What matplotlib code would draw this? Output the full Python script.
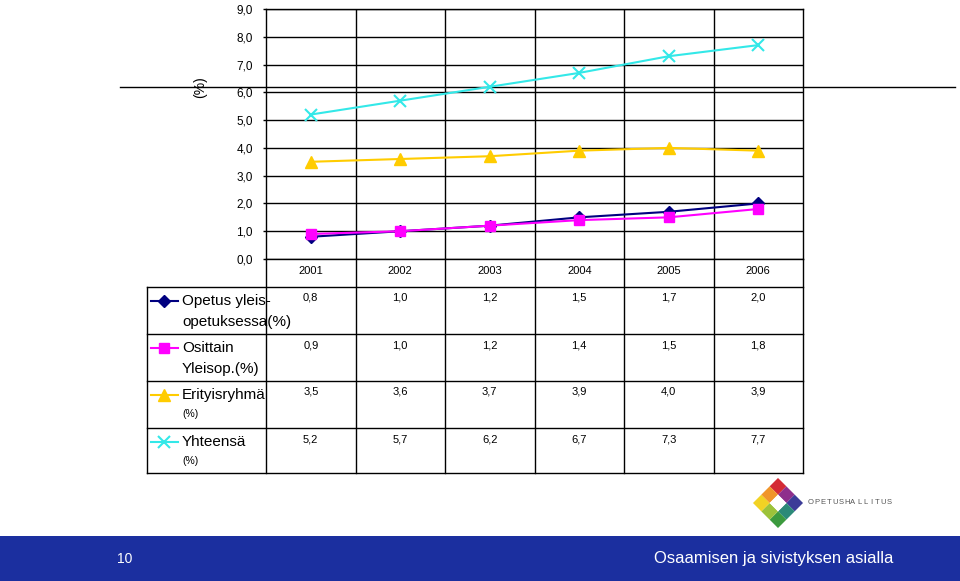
import matplotlib
matplotlib.use("Agg")
import matplotlib.pyplot as plt
from matplotlib.patches import Polygon, Rectangle

plt.rcParams['font.family'] = ['Liberation Sans', 'DejaVu Sans']

years = ['2001', '2002', '2003', '2004', '2005', '2006']
opetus = [0.8, 1.0, 1.2, 1.5, 1.7, 2.0]
osittain = [0.9, 1.0, 1.2, 1.4, 1.5, 1.8]
erityis = [3.5, 3.6, 3.7, 3.9, 4.0, 3.9]
yhteensa = [5.2, 5.7, 6.2, 6.7, 7.3, 7.7]
yticks = [0, 1, 2, 3, 4, 5, 6, 7, 8, 9]

series = [
    (opetus, 'Opetus yleis-', 'opetuksessa(%)', False, '#000080', 'D', 6),
    (osittain, 'Osittain', 'Yleisop.(%)', False, '#ff00ff', 's', 7),
    (erityis, 'Erityisryhmä', '(%)', True, '#ffcc00', '^', 9),
    (yhteensa, 'Yhteensä', '(%)', True, '#33e8e8', 'x', 9),
]

W, H = 960, 581
fig = plt.figure(figsize=(W / 100, H / 100), dpi=100)

# pixel-space overlay for slide decoration and table
bg = fig.add_axes([0, 0, 1, 1], zorder=0)
bg.set_xlim(0, W)
bg.set_ylim(H, 0)
bg.axis('off')

x0, x1, ytop, ybot = 266, 803, 9, 259
ax = fig.add_axes([x0 / W, (H - ybot) / H, (x1 - x0) / W, (ybot - ytop) / H], zorder=1)
ax.set_facecolor('none')

xs = range(len(years))
for vals, l1, l2, small, col, mk, ms in series:
    ax.plot(xs, vals, color=col, lw=1.5, marker=mk, ms=ms,
            mew=1.5 if mk == 'x' else 1, mec=col, mfc=col, clip_on=False, zorder=3)

ax.set_xlim(-0.5, len(years) - 0.5)
ax.set_ylim(0, 9)
ax.set_yticks(yticks, [f'{v:.1f}'.replace('.', ',') for v in yticks])
ax.tick_params(axis='y', length=2.5, pad=7, labelsize=8.5, width=1)
ax.set_xticks(list(xs), years)
ax.tick_params(axis='x', length=0, pad=5, labelsize=8)
ax.grid(axis='y', color='black', lw=1)
for b in [i + 0.5 for i in range(len(years) - 1)]:
    ax.axvline(b, color='black', lw=1)
for s in ax.spines.values():
    s.set_linewidth(1)

# slide decoration line
bg.plot([120, 955], [87, 87], color='black', lw=1, zorder=5)
fig.text(200 / W, 1 - 87 / H, '(%)', rotation=90, ha='center', va='center', fontsize=10)

# data table
tl, tt = 147, 287
rows = [287, 334, 381, 428, 473]
cw = (x1 - x0) / len(years)
for y in rows:
    bg.plot([tl, x1], [y, y], color='black', lw=1)
bg.plot([tl, tl], [tt, rows[-1]], color='black', lw=1)
for i in range(len(years) + 1):
    bx = x0 + i * cw
    bg.plot([bx, bx], [ybot, rows[-1]], color='black', lw=1)

for r, (vals, l1, l2, small, col, mk, ms) in enumerate(series):
    ry = rows[r]
    for i, v in enumerate(vals):
        bg.text(x0 + (i + 0.5) * cw, ry + 11, f'{v:.1f}'.replace('.', ','),
                ha='center', va='center', fontsize=8)
    ky = ry + 14
    bg.plot([151, 178], [ky, ky], color=col, lw=1.5)
    bg.plot([164], [ky], marker=mk, ms=ms, color=col, mec=col,
            mew=1.5 if mk == 'x' else 1)
    bg.text(182, ky, l1, ha='left', va='center', fontsize=11)
    if small:
        bg.text(182, ry + 33, l2, ha='left', va='center', fontsize=7.5)
    else:
        bg.text(182, ry + 35, l2, ha='left', va='center', fontsize=11)

# logo
cx, cy, s = 778, 503, 11.8
d = s / 2 ** 0.5
logo = {(-1, -1): '#d42a35', (0, -1): '#8e2f8c', (1, -1): '#3c3c98',
        (1, 0): '#2c8a78', (1, 1): '#3c9a3e', (0, 1): '#9cc23a',
        (-1, 1): '#f2d224', (-1, 0): '#f0952a', (0, 0): '#ffffff'}
for (u, v), c in logo.items():
    px = cx + (u - v) * d
    py = cy + (u + v) * d
    bg.add_patch(Polygon([(px, py - d), (px + d, py), (px, py + d), (px - d, py)],
                         closed=True, facecolor=c, edgecolor='none'))
for i, ch in enumerate('OPETUSHALLITUS'):
    bg.text(811 + i * 6.0, 503, ch, ha='center', va='center', fontsize=5.5,
            color='#555555')

# footer
bg.add_patch(Rectangle((0, 536), W, 45, facecolor='#1b2f9f', edgecolor='none'))
bg.text(125, 559, '10', color='white', fontsize=10, ha='center', va='center')
bg.text(893, 559, 'Osaamisen ja sivistyksen asialla', color='white', fontsize=12,
        ha='right', va='center')

fig.savefig('out.png', dpi=100)
